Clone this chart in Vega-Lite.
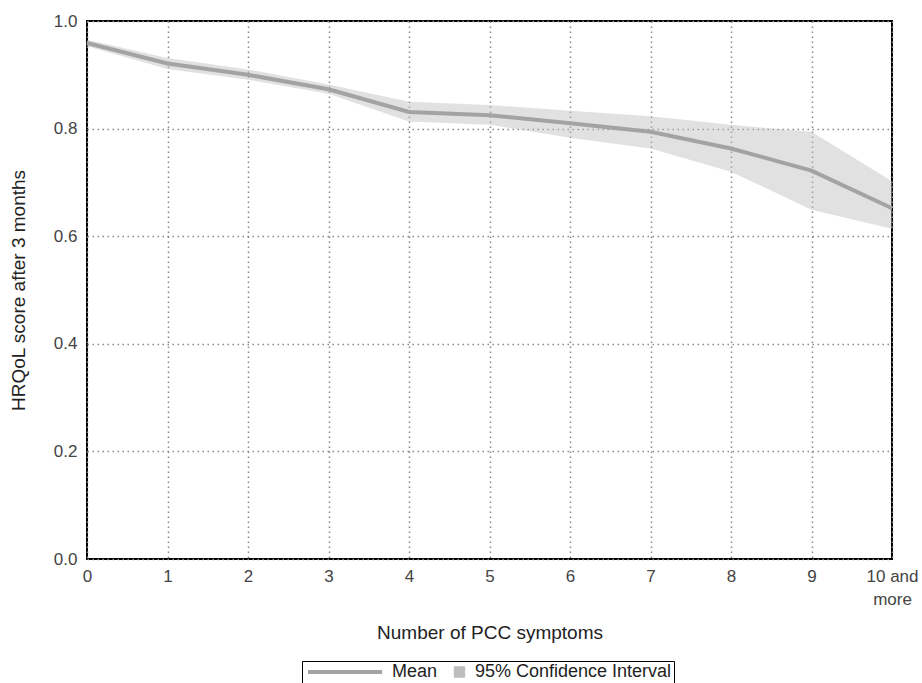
{
  "$schema": "https://vega.github.io/schema/vega-lite/v6.json",
  "width": 805,
  "height": 538,
  "padding": {"left": 9, "top": 12, "right": 25, "bottom": 2},
  "background": "white",
  "data": {
    "values": [
      {"n": 0, "mean": 0.959, "lo": 0.953, "hi": 0.965},
      {"n": 1, "mean": 0.921, "lo": 0.911, "hi": 0.931},
      {"n": 2, "mean": 0.900, "lo": 0.891, "hi": 0.910},
      {"n": 3, "mean": 0.873, "lo": 0.865, "hi": 0.882},
      {"n": 4, "mean": 0.831, "lo": 0.813, "hi": 0.850},
      {"n": 5, "mean": 0.825, "lo": 0.807, "hi": 0.844},
      {"n": 6, "mean": 0.810, "lo": 0.783, "hi": 0.833},
      {"n": 7, "mean": 0.794, "lo": 0.763, "hi": 0.823},
      {"n": 8, "mean": 0.763, "lo": 0.720, "hi": 0.807},
      {"n": 9, "mean": 0.722, "lo": 0.649, "hi": 0.794},
      {"n": 10, "mean": 0.652, "lo": 0.614, "hi": 0.702}
    ]
  },
  "encoding": {
    "x": {
      "field": "n",
      "type": "quantitative",
      "scale": {"domain": [0, 10], "nice": false, "zero": false},
      "axis": {
        "title": "Number of PCC symptoms",
        "values": [0, 1, 2, 3, 4, 5, 6, 7, 8, 9, 10],
        "labelExpr": "datum.value == 10 ? ['10 and', 'more'] : datum.label",
        "labelFlush": false,
        "labelOverlap": false,
        "labelLineHeight": 23,
        "titlePadding": 16
      }
    }
  },
  "layer": [
    {
      "mark": {"type": "area", "opacity": 0.45},
      "encoding": {
        "y": {"field": "lo", "type": "quantitative"},
        "y2": {"field": "hi"},
        "color": {"datum": "95% Confidence Interval"}
      }
    },
    {
      "mark": {"type": "line", "strokeWidth": 4},
      "encoding": {
        "y": {
          "field": "mean",
          "type": "quantitative",
          "scale": {"domain": [0, 1], "nice": false},
          "axis": {
            "title": "HRQoL score after 3 months",
            "values": [0, 0.2, 0.4, 0.6, 0.8, 1.0],
            "format": ".1f",
            "labelPadding": 10,
            "titlePadding": 25
          }
        },
        "color": {
          "datum": "Mean",
          "scale": {
            "domain": ["Mean", "95% Confidence Interval"],
            "range": ["#a3a3a3", "#bdbdbd"]
          },
          "legend": {
            "title": null,
            "orient": "none",
            "legendX": 215,
            "legendY": 640,
            "direction": "horizontal",
            "strokeColor": "#000",
            "padding": 2,
            "symbolSize": 5476,
            "labelOffset": 10,
            "columnPadding": 10,
            "labelFontSize": 18,
            "labelLimit": 400,
            "labelColor": "#222",
            "labelFont": "Liberation Sans",
            "encode": {
              "symbols": {
                "update": {
                  "shape": {"signal": "datum.value === 'Mean' ? 'stroke' : 'square'"},
                  "size": {"signal": "datum.value === 'Mean' ? 5476 : 110"},
                  "x": {"signal": "datum.value === 'Mean' ? 41 : 11.5"},
                  "strokeWidth": {"signal": "datum.value === 'Mean' ? 4 : 1"},
                  "opacity": {"value": 1}
                }
              },
              "labels": {
                "update": {
                  "x": {"signal": "datum.value === 'Mean' ? 88 : 27"}
                }
              }
            }
          }
        }
      }
    }
  ],
  "config": {
    "font": "Liberation Sans",
    "view": {"stroke": "#000", "strokeWidth": 2},
    "axis": {
      "zindex": 1,
      "domain": false,
      "ticks": false,
      "grid": true,
      "gridColor": "#888",
      "gridDash": [1.5, 3.5],
      "gridWidth": 1.5,
      "labelFontSize": 17,
      "labelColor": "#444",
      "labelPadding": 9,
      "titleFontSize": 19,
      "titleFontWeight": "normal",
      "titleColor": "#222"
    }
  }
}
